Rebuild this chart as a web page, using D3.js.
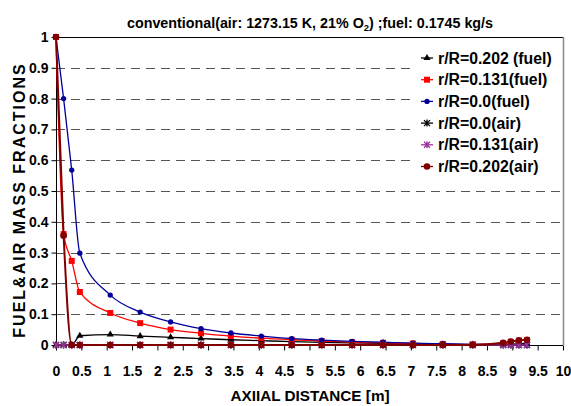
<!DOCTYPE html>
<html>
<head>
<meta charset="utf-8">
<script src="https://cdn.jsdelivr.net/npm/d3@7"></script>
<style>
	body { margin: 0; background: #fff; }
	text { font-family: "Liberation Sans", Arial, sans-serif; font-weight: bold; fill: #000; }
</style>
</head>
<body>
<div class="container"></div>
<script>
var distance = [0, 0.15, 0.31, 0.47, 1.07, 1.66, 2.26, 2.86, 3.45, 4.05, 4.65, 5.24, 5.84, 6.45, 7.04, 7.63, 8.22, 8.82, 8.97, 9.13, 9.29];

var fuel202 = [0, 0, 0, 0.03, 0.034, 0.029, 0.025, 0.021, 0.017, 0.014, 0.011, 0.009, 0.007, 0.005, 0.003, 0.002, 0.001, 0.002, 0.003, 0.004, 0.005];
var fuel131 = [1, 0.36, 0.273, 0.172, 0.104, 0.071, 0.05, 0.038, 0.029, 0.022, 0.017, 0.013, 0.009, 0.007, 0.005, 0.003, 0.002, 0.005, 0.01, 0.014, 0.016];
var fuel0 = [1, 0.8, 0.568, 0.298, 0.162, 0.107, 0.075, 0.053, 0.039, 0.029, 0.021, 0.016, 0.012, 0.009, 0.006, 0.004, 0.002, 0.001, 0, 0, 0];
var air0 = [0, 0, 0, 0, 0, 0, 0, 0, 0, 0, 0, 0, 0, 0, 0, 0, 0, 0, 0, 0, 0];
var air131 = [0, 0, 0, 0, 0, 0, 0, 0, 0, 0, 0, 0, 0, 0, 0, 0, 0, 0, 0, 0, 0];
var air202 = [1, 0.355, 0, 0, 0, 0, 0, 0, 0, 0, 0, 0, 0, 0, 0, 0, 0, 0.007, 0.011, 0.015, 0.017];

var seriesNames = ['r/R=0.202 (fuel)', 'r/R=0.131(fuel)', 'r/R=0.0(fuel)', 'r/R=0.0(air)', 'r/R=0.131(air)', 'r/R=0.202(air)'];
var seriesColors = ['#000000', '#ff0000', '#000099', '#000000', '#993399', '#800000'];
var seriesMarkers = ['triangle', 'square', 'diamond', 'asterisk', 'asterisk', 'circle'];
var seriesValues = [fuel202, fuel131, fuel0, air0, air131, air202];

var xTicks = d3.range(0, 10.01, 0.5);
var yTicks = d3.range(0, 1.01, 0.1);

var width = 571,
	height = 406,
	plotLeft = 56,
	plotRight = 563,
	plotTop = 37,
	plotBottom = 345;

var svg = d3.select('.container')
	.append('svg')
	.attr('width', width)
	.attr('height', height);

var x = d3.scaleLinear().domain([0, 10]).range([plotLeft, plotRight]);
var y = d3.scaleLinear().domain([0, 1]).range([plotBottom, plotTop]);

// grid
svg.append('g')
	.selectAll('line')
	.data(yTicks.filter(function (d) { return d > 0.05 && d < 0.95; }))
	.enter().append('line')
		.attr('x1', plotLeft)
		.attr('x2', plotRight)
		.attr('y1', function (d) { return Math.round(y(d)) + 0.5; })
		.attr('y2', function (d) { return Math.round(y(d)) + 0.5; })
		.style('stroke', '#555')
		.style('stroke-width', 1)
		.style('stroke-dasharray', '9,6');

// frame
svg.append('line')
	.attr('x1', plotLeft).attr('x2', plotRight)
	.attr('y1', plotTop + 0.5).attr('y2', plotTop + 0.5)
	.style('stroke', '#000');

// legend box (covers grid)
var legend = svg.append('g');
legend.append('rect')
	.attr('x', 415)
	.attr('y', 42)
	.attr('width', plotRight - 415)
	.attr('height', 136)
	.style('fill', '#fff');

svg.append('line')
	.attr('x1', plotRight + 0.5).attr('x2', plotRight + 0.5)
	.attr('y1', plotTop).attr('y2', plotBottom)
	.style('stroke', '#888')
	.style('stroke-width', 1.5);

// axes
var xAxis = svg.append('g')
	.attr('transform', 'translate(0,' + (plotBottom + 0.5) + ')')
	.call(d3.axisBottom(x).tickValues(xTicks).tickSize(5).tickPadding(16)
		.tickFormat(function (d) { return d3.format('~g')(d); }));

var yAxis = svg.append('g')
	.attr('transform', 'translate(' + (plotLeft + 0.5) + ',0)')
	.call(d3.axisLeft(y).tickValues(yTicks).tickSize(5).tickPadding(3)
		.tickFormat(function (d) { return d3.format('~g')(+d.toFixed(1)); }));

xAxis.select('.domain').attr('d', 'M' + plotLeft + ',0H' + plotRight).style('stroke', '#000');
yAxis.select('.domain').attr('d', 'M0,' + plotTop + 'V' + plotBottom).style('stroke', '#000');
xAxis.selectAll('text').style('font-size', '14px').style('font-family', '"Liberation Sans", Arial, sans-serif').style('font-weight', 'bold');
yAxis.selectAll('text').style('font-size', '14px').style('font-family', '"Liberation Sans", Arial, sans-serif').style('font-weight', 'bold');

// titles
var title = svg.append('text')
	.attr('x', 310)
	.attr('y', 28)
	.attr('text-anchor', 'middle')
	.style('font-size', '14.3px');
title.append('tspan').text('conventional(air: 1273.15 K, 21% O');
title.append('tspan').attr('dy', 3).style('font-size', '9.5px').text('2');
title.append('tspan').attr('dy', -3).text(') ;fuel: 0.1745 kg/s');

svg.append('text')
	.attr('x', 310)
	.attr('y', 401)
	.attr('text-anchor', 'middle')
	.style('font-size', '15.3px')
	.text('AXIIAL DISTANCE [m]');

svg.append('text')
	.attr('transform', 'translate(25,200) rotate(-90)')
	.attr('text-anchor', 'middle')
	.style('font-size', '16px')
	.style('letter-spacing', '2px')
	.text('FUEL&AIR MASS FRACTIONS');

// markers
function drawMarker(g, type, color) {
	if (type === 'triangle') {
		g.append('path').attr('d', d3.symbol(d3.symbolTriangle, 22)()).style('fill', color);
	} else if (type === 'square') {
		g.append('rect').attr('x', -3).attr('y', -3).attr('width', 6).attr('height', 6).style('fill', color);
	} else if (type === 'diamond') {
		g.append('path').attr('d', d3.symbol(d3.symbolCircle, 22)()).style('fill', color);
	} else if (type === 'circle') {
		g.append('circle').attr('r', 3.3).style('fill', color);
	} else {
		g.append('path')
			.attr('d', 'M-3,-3L3,3M-3,3L3,-3M0,-3.5V3.5')
			.style('stroke', color)
			.style('stroke-width', 1.3)
			.style('fill', 'none');
	}
}

var line = d3.line()
	.x(function (d) { return x(d[0]); })
	.y(function (d) { return y(d[1]); })
	.curve(d3.curveMonotoneX);

seriesValues.forEach(function (values, i) {
	var points = distance.map(function (d, j) { return [d, values[j]]; });
	var g = svg.append('g');

	g.append('path')
		.datum(points)
		.attr('d', line)
		.style('fill', 'none')
		.style('stroke', seriesColors[i])
		.style('stroke-width', i === 5 ? 2 : 1.3);

	g.selectAll('g')
		.data(points)
		.enter().append('g')
			.attr('transform', function (d) { return 'translate(' + x(d[0]) + ',' + y(d[1]) + ')'; })
			.each(function () {
				drawMarker(d3.select(this), seriesMarkers[i], seriesColors[i]);
			});
});

// legend items
seriesNames.forEach(function (name, i) {
	var yy = 58 + i * 21.7;
	var item = legend.append('g');

	item.append('line')
		.attr('x1', 421).attr('x2', 433)
		.attr('y1', yy).attr('y2', yy)
		.style('stroke', seriesColors[i])
		.style('stroke-width', 1.3);

	drawMarker(item.append('g').attr('transform', 'translate(427,' + yy + ')'), seriesMarkers[i], seriesColors[i]);

	item.append('text')
		.attr('x', 438)
		.attr('y', yy)
		.attr('dy', '0.36em')
		.style('font-size', '15.8px')
		.text(name);
});
</script>
</body>
</html>
